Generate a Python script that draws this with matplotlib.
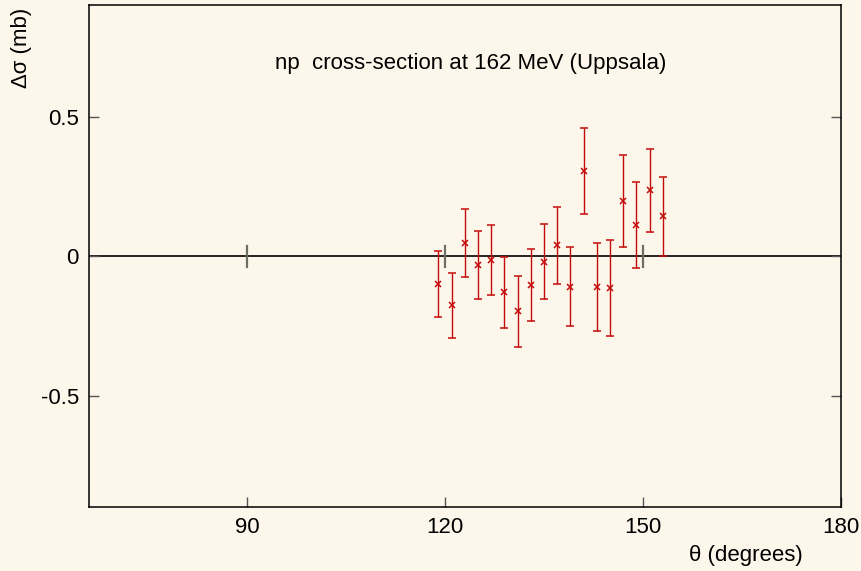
import matplotlib
matplotlib.use("Agg")
import matplotlib.pyplot as plt

# np spin-dependent cross-section difference, Uppsala 162 MeV
theta = [119, 121, 123, 125, 127, 129, 131, 133, 135,
         137, 139, 141, 143, 145, 147, 149, 151, 153]
dsig = [-0.100, -0.176, 0.048, -0.030, -0.013, -0.130, -0.197, -0.103, -0.019,
        0.039, -0.110, 0.305, -0.110, -0.114, 0.197, 0.111, 0.236, 0.144]
err = [0.118, 0.117, 0.121, 0.122, 0.125, 0.126, 0.127, 0.129, 0.135,
       0.138, 0.142, 0.155, 0.159, 0.172, 0.165, 0.154, 0.148, 0.142]

xticks = [90, 120, 150, 180]
yticks = [-0.5, 0, 0.5]
ytick_labels = ["-0.5", "0", "0.5"]

bg = "#fdf6eb"
red = "#c40a0a"
plt.rcParams["font.family"] = ["Liberation Sans", "DejaVu Sans"]
plt.rcParams["font.size"] = 16

fig = plt.figure(figsize=(8.62, 5.71), dpi=100, facecolor=bg)
ax = fig.add_axes([0.1027, 0.1121, 0.8729, 0.8783], facecolor=bg)

ax.axhline(0, color="black", lw=1.2, zorder=1)
# small ticks drawn on the zero axis
for xt in xticks[:-1]:
    ax.plot([xt, xt], [-0.037, 0.037], color="#6e6e64", lw=1.6, zorder=2)

ax.errorbar(theta, dsig, yerr=err, fmt="x", color=red, ecolor=red,
            markersize=5, mew=1.1, elinewidth=1.0, capsize=2.6, capthick=1.0, zorder=3)

ax.set_xlim(66, 180)
ax.set_ylim(-0.9, 0.9)
ax.set_xticks(xticks)
ax.set_yticks(yticks)
ax.set_yticklabels(ytick_labels)
ax.tick_params(direction="in", length=7.5, width=1.0, color="#555555",
               right=True, top=False, pad=7, labelsize=16)
for s in ax.spines.values():
    s.set_linewidth(1.1)

ax.text(0.508, 0.885, "np  cross-section at 162 MeV (Uppsala)", transform=ax.transAxes,
        ha="center", va="center", fontsize=16)
fig.text(22 / 862, 1 - 48 / 571, "Δσ (mb)", rotation=90, ha="center", va="center", fontsize=16)
fig.text(746 / 862, 1 - 556 / 571, "θ (degrees)", ha="center", va="center", fontsize=16)

fig.savefig("out.png", dpi=100, facecolor=bg)
